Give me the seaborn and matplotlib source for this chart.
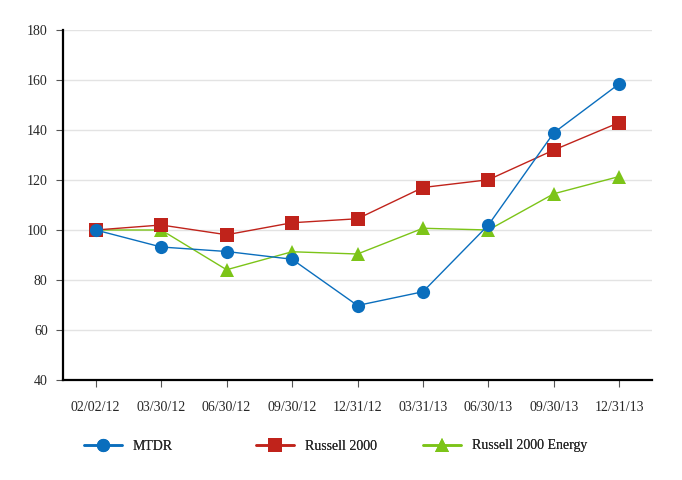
import pandas as pd
import matplotlib
matplotlib.use("Agg")
import matplotlib.pyplot as plt
import matplotlib.colors as mcolors
import seaborn as sns

# Chart values
dates = ["02/02/12", "03/30/12", "06/30/12", "09/30/12", "12/31/12",
         "03/31/13", "06/30/13", "09/30/13", "12/31/13"]
mtdr = [100, 93.2, 91.4, 88.3, 69.8, 75.3, 102.0, 138.9, 158.5]
russell = [100, 102.0, 98.1, 102.9, 104.5, 117.0, 120.1, 132.0, 143.0]
energy = [100, 100.0, 84.1, 91.3, 90.4, 100.7, 100.0, 114.5, 121.4]
series_names = ["MTDR", "Russell 2000", "Russell 2000 Energy"]

colors = {"MTDR": "#0A6EBD", "Russell 2000": "#C0231B", "Russell 2000 Energy": "#7CC418"}
markers = {"MTDR": "o", "Russell 2000": "s", "Russell 2000 Energy": "^"}

rows = []
for name, vals in zip(series_names, [mtdr, russell, energy]):
    for i, v in enumerate(vals):
        rows.append({"pos": i, "value": v, "series": name})
df = pd.DataFrame(rows)

sns.set_style("white")
plt.rcParams["font.family"] = ["Liberation Serif", "DejaVu Serif"]

fig = plt.figure(figsize=(6.82, 4.8), dpi=100)
ax = fig.add_axes([63 / 682, 1 - 380 / 480, (652 - 63) / 682, 350 / 480])

sns.lineplot(data=df, x="pos", y="value", hue="series", style="series",
             palette=colors, markers=markers, dashes=False, ax=ax,
             linewidth=1.0, markersize=9.5, markeredgewidth=0, legend=True)

# blue on top, then red, then green
z_by_color = {mcolors.to_hex(colors["MTDR"]): 5,
              mcolors.to_hex(colors["Russell 2000"]): 4,
              mcolors.to_hex(colors["Russell 2000 Energy"]): 3}
for line in ax.get_lines():
    c = mcolors.to_hex(line.get_color())
    if c in z_by_color:
        line.set_zorder(z_by_color[c])

ax.set_xlim(-0.5, 8.5)
ax.set_ylim(40, 180)
ax.set_yticks(range(40, 181, 20))
ax.set_xticks(range(len(dates)))
ax.set_xticklabels(dates)
ax.set_xlabel("")
ax.set_ylabel("")
ax.grid(axis="y", color="#e3e3e3", linewidth=1.0)
ax.set_axisbelow(True)

for s in ["top", "right"]:
    ax.spines[s].set_visible(False)
for s in ["left", "bottom"]:
    ax.spines[s].set_color("black")
    ax.spines[s].set_linewidth(1.6)

ax.tick_params(axis="both", which="both", direction="out", length=5, width=0.8,
               color="#555555", labelsize=10, bottom=True, left=True)
ax.tick_params(axis="x", pad=10)
ax.tick_params(axis="y", pad=6)

handles, labels = ax.get_legend_handles_labels()
ax.get_legend().remove()

# one legend per entry, placed at fixed spacing like the original
starts = [84, 256, 423]
for h, lab, x0 in zip(handles, labels, starts):
    h.set_linewidth(1.8)
    leg = fig.legend([h], [lab], loc="center left", bbox_to_anchor=(x0 / 682, 1 - 446 / 480),
                     frameon=False, fontsize=10, handlelength=2.7, handletextpad=0.8,
                     borderpad=0, borderaxespad=0)
    fig.add_artist(leg)

fig.savefig("out.png", dpi=100)
